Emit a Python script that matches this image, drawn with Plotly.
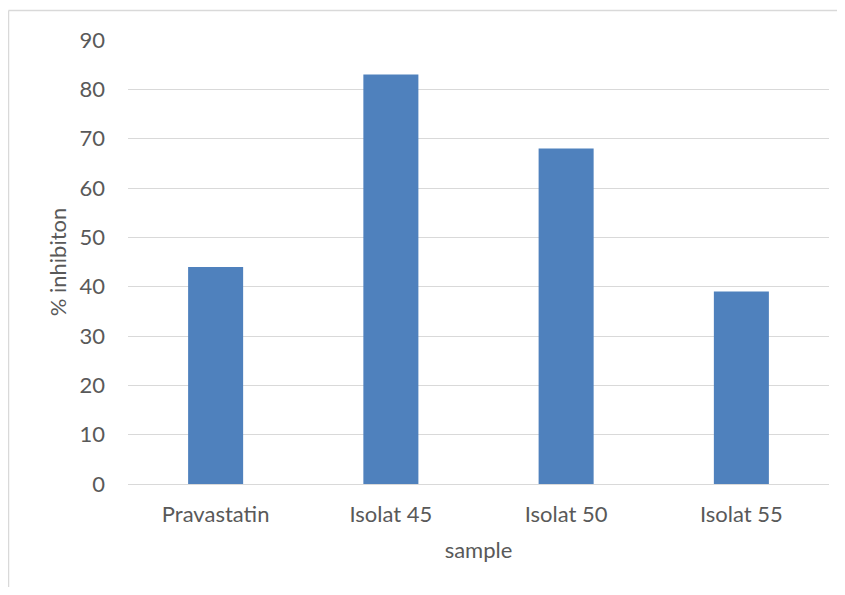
import plotly.graph_objects as go

categories = ["Pravastatin", "Isolat 45", "Isolat 50", "Isolat 55"]
values = [44, 83, 68, 39]
y_ticks = [0, 10, 20, 30, 40, 50, 60, 70, 80, 90]

# page has an 8px body margin; figure sized so everything lands where the reference has it
W, H = 829, 579
L, R, T, B = 120, 8, 32, 103
pw, ph = W - L - R, H - T - B

FONT = "Lato"
GREY = "#595959"
FRAME = "#D9D9D9"

fig = go.Figure(go.Bar(
    x=categories, y=values,
    marker=dict(color="#4F81BD", line=dict(width=0)),
    width=0.314,
))

fx0 = (0.5 - L) / pw
fy1 = (H - B - 2.5) / ph

fig.update_layout(
    width=W, height=H,
    margin=dict(l=L, r=R, t=T, b=B, pad=0),
    paper_bgcolor="white", plot_bgcolor="white",
    font=dict(family=FONT, color=GREY, size=22),
    showlegend=False,
    xaxis=dict(
        showgrid=False, showline=True, linecolor="#D9D9D9", linewidth=1,
        ticks="", tickfont=dict(size=22, color=GREY), ticklabelstandoff=11,
        title=dict(text="sample", font=dict(size=22, color=GREY), standoff=16),
    ),
    yaxis=dict(
        range=[0, 90], tickvals=y_ticks, showgrid=True, gridcolor="#D9D9D9",
        gridwidth=1, zeroline=False, ticks="", tickfont=dict(size=22, color=GREY),
        ticklabelstandoff=22,
        title=dict(text="% inhibiton", font=dict(size=22, color=GREY), standoff=6),
    ),
    shapes=[
        dict(type="line", xref="paper", yref="paper", x0=fx0, x1=1.3, y0=fy1, y1=fy1,
             line=dict(color=FRAME, width=1.5), layer="below"),
        dict(type="line", xref="paper", yref="paper", x0=fx0, x1=fx0, y0=-0.5, y1=fy1,
             line=dict(color=FRAME, width=1.5), layer="below"),
    ],
)

fig.write_html("out.html")
